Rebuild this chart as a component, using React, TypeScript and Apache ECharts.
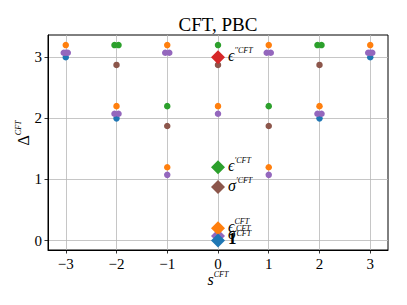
import { useEffect, useRef } from 'react';
import * as echarts from 'echarts';

const SERIF = "'Liberation Serif', 'DejaVu Serif', serif";

// Tick values
const xTicks = [-3, -2, -1, 0, 1, 2, 3];
const yTicks = [0, 1, 2, 3];

// Descendant states [s, Delta] per conformal family (degenerate states slightly offset)
const identityPoints: number[][] = [[0, 0], [-2, 2], [2, 2], [-3, 3], [3, 3]];
const sigmaPoints: number[][] = [
  [0, 0.075], [-1, 1.075], [1, 1.075], [0, 2.075],
  [-2.04, 2.075], [-1.96, 2.075], [1.96, 2.075], [2.04, 2.075],
  [-3.04, 3.075], [-3, 3.075], [-2.96, 3.075],
  [-1.04, 3.075], [-0.96, 3.075], [0.96, 3.075], [1.04, 3.075],
  [2.96, 3.075], [3, 3.075], [3.04, 3.075],
];
const epsilonPoints: number[][] = [
  [0, 0.2], [-1, 1.2], [1, 1.2], [0, 2.2], [-2, 2.2], [2, 2.2],
  [-1, 3.2], [1, 3.2], [-3, 3.2], [3, 3.2],
];
const sigmaPrimePoints: number[][] = [
  [0, 0.875], [-1, 1.875], [1, 1.875], [0, 2.875], [-2, 2.875], [2, 2.875],
];
const epsilonPrimePoints: number[][] = [
  [0, 1.2], [-1, 2.2], [1, 2.2], [0, 3.2],
  [-2.04, 3.2], [-1.96, 3.2], [1.96, 3.2], [2.04, 3.2],
];
const epsilonDoublePrimePoints: number[][] = [[0, 3]];

// Primaries (diamonds)
const primaryNames = ['σ', 'σ′', 'ϵ′', 'ϵ′′', 'ϵ', '1'];
const primarySpins = [0, 0, 0, 0, 0, 0];
const primaryDims = [0.075, 0.875, 1.2, 3, 0.2, 0];
const primaryColors = ['#9467bd', '#8c564b', '#2ca02c', '#d62728', '#ff7f0e', '#1f77b4'];

const families = [
  { pts: identityPoints, color: '#1f77b4' },
  { pts: sigmaPoints, color: '#9467bd' },
  { pts: epsilonPoints, color: '#ff7f0e' },
  { pts: sigmaPrimePoints, color: '#8c564b' },
  { pts: epsilonPrimePoints, color: '#2ca02c' },
  { pts: epsilonDoublePrimePoints, color: '#d62728' },
];

const rich: any = {
  m: { fontFamily: SERIF, fontStyle: 'italic', fontSize: 16, lineHeight: 18, verticalAlign: 'middle', color: '#000' },
  u: { fontFamily: SERIF, fontSize: 16, lineHeight: 18, verticalAlign: 'middle', color: '#000' },
  b: { fontFamily: SERIF, fontWeight: 'bold', fontSize: 17, lineHeight: 18, verticalAlign: 'middle', color: '#000' },
  s: { fontFamily: SERIF, fontStyle: 'italic', fontSize: 8, lineHeight: 13, verticalAlign: 'top', color: '#000' },
};

function primaryLabel(name: string): string {
  const base = name.replace(/′/g, '');
  const primes = name.slice(base.length);
  const tag = base === '1' ? 'b' : 'm';
  return `{${tag}|${base}}{s|${primes}CFT}`;
}

const fmtTick = (v: number) => (v < 0 ? '−' + Math.abs(v) : String(v));

export default function App() {
  const ref = useRef<HTMLDivElement>(null);
  useEffect(() => {
    const chart = echarts.init(ref.current!, null, { renderer: 'svg' });
    const dotSeries = families.map((f, i) => ({
      type: 'scatter',
      data: f.pts,
      symbol: 'circle',
      symbolSize: 6.5,
      itemStyle: { color: f.color, opacity: 1 },
      z: 2 + i * 0.01,
      silent: true,
    }));
    const diamondSeries = primaryNames.map((n, i) => ({
      type: 'scatter',
      data: [[primarySpins[i], primaryDims[i]]],
      symbol: 'diamond',
      symbolSize: 14,
      itemStyle: { color: primaryColors[i], opacity: 1 },
      z: 3 + i * 0.01,
      label: {
        show: true,
        position: 'right',
        distance: 3,
        offset: [0, -2],
        color: '#000',
        textBorderWidth: 0,
        formatter: primaryLabel(n),
        rich,
      },
      silent: true,
    }));
    const option: any = {
      animation: false,
      backgroundColor: '#fff',
      grid: { left: 48, right: 19, top: 35, bottom: 55, show: true, borderColor: '#000', borderWidth: 1, backgroundColor: 'transparent' },
      graphic: [
        {
          type: 'text', x: 218, y: 24,
          style: { text: 'CFT, PBC', fontFamily: SERIF, fontSize: 19, fill: '#000', align: 'center', verticalAlign: 'middle' },
        },
        {
          type: 'text', x: 218, y: 279,
          style: { text: '{m|s}{s|CFT}', rich, align: 'center', verticalAlign: 'middle' },
        },
        {
          type: 'text', x: 23, y: 133, rotation: Math.PI / 2,
          style: { text: '{u|Δ}{s|CFT}', rich, align: 'center', verticalAlign: 'middle' },
        },
      ],
      xAxis: {
        type: 'value', min: -3.35, max: 3.35,
        axisLine: { show: true, onZero: false, lineStyle: { color: '#000', width: 1 } },
        axisTick: { show: true, customValues: xTicks, length: 3.5, lineStyle: { color: '#000', width: 0.8 } },
        axisLabel: { customValues: xTicks, formatter: fmtTick, fontFamily: SERIF, fontSize: 15, color: '#000', margin: 6 },
        splitLine: { show: true, lineStyle: { color: '#b8b8b8', width: 0.8 } },
      },
      yAxis: {
        type: 'value', min: -0.155, max: 3.365,
        axisLine: { show: true, onZero: false, lineStyle: { color: '#000', width: 1 } },
        axisTick: { show: true, customValues: yTicks, length: 3.5, lineStyle: { color: '#000', width: 0.8 } },
        axisLabel: { customValues: yTicks, formatter: fmtTick, fontFamily: SERIF, fontSize: 15, color: '#000', margin: 6 },
        splitLine: { show: true, lineStyle: { color: '#b8b8b8', width: 0.8 } },
      },
      series: [...dotSeries, ...diamondSeries],
    };
    chart.setOption(option);
    return () => chart.dispose();
  }, []);
  return <div ref={ref} style={{ position: 'fixed', left: 0, top: 0, width: 407, height: 305 }} />;
}
